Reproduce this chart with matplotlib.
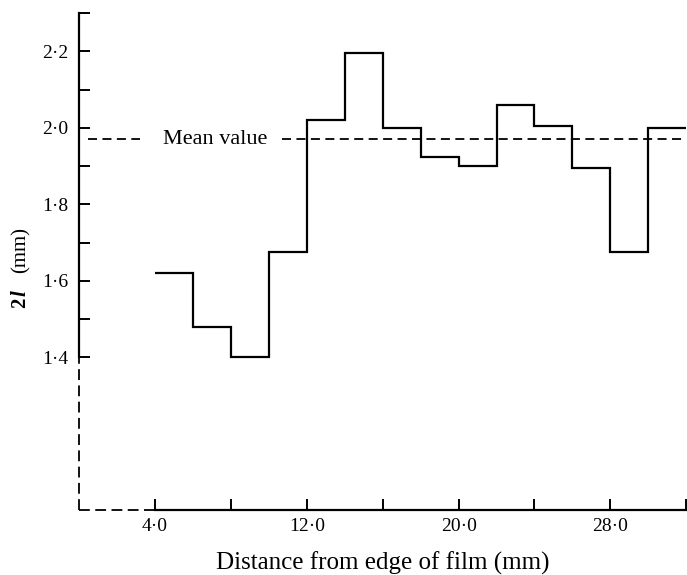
import matplotlib
matplotlib.use('Agg')
from matplotlib import pyplot as plt
from matplotlib.ticker import FixedLocator, FixedFormatter

# Bin edges (mm from edge of film) and the measured 2l in each bin
edges = [4, 6, 8, 10, 12, 14, 16, 18, 20, 22, 24, 26, 28, 30, 32]
widths_2l = [1.62, 1.48, 1.40, 1.675, 2.02, 2.195, 2.00, 1.925,
             1.90, 2.06, 2.005, 1.895, 1.675, 2.00]
mean_value = 1.97

x_ticks = [4, 8, 12, 16, 20, 24, 28, 32]
x_labels = ['4·0', '', '12·0', '', '20·0', '', '28·0', '']
y_ticks = [1.4, 1.6, 1.8, 2.0, 2.2]
y_labels = ['1·4', '1·6', '1·8', '2·0', '2·2']

plt.rcParams['font.family'] = ['Liberation Serif', 'DejaVu Serif']

fig = plt.figure(figsize=(6.87, 5.75), dpi=100)
ax = fig.add_axes([0.115, 0.113, 0.884, 0.864])
ax.set_xlim(0, 32)
ax.set_ylim(1.0, 2.3)

# Step line, no drop to a baseline
ax.stairs(widths_2l, edges, baseline=None, color='black', lw=1.6)

# Mean value line, broken for its label
ax.plot([0.45, 3.2], [mean_value, mean_value], color='black', lw=1.3,
        dashes=(5, 3))
ax.plot([10.7, 32], [mean_value, mean_value], color='black', lw=1.3,
        dashes=(5, 3), clip_on=False)
ax.text(4.45, mean_value, 'Mean value', fontsize=16, va='center', ha='left')

# Hand drawn axes: dashed below 1.4 and left of 4.0
for s in ax.spines.values():
    s.set_visible(False)
ax.plot([0, 0], [1.4, 2.3], color='black', lw=1.6, clip_on=False)
ax.plot([0, 0], [1.0, 1.4], color='black', lw=1.3, dashes=(6, 3), clip_on=False)
ax.plot([4, 32], [1.0, 1.0], color='black', lw=1.6, clip_on=False)
ax.plot([0, 4], [1.0, 1.0], color='black', lw=1.3, dashes=(6, 3), clip_on=False)

ax.yaxis.set_major_locator(FixedLocator(y_ticks))
ax.yaxis.set_major_formatter(FixedFormatter(y_labels))
ax.yaxis.set_minor_locator(FixedLocator([1.5, 1.7, 1.9, 2.1, 2.3]))
ax.xaxis.set_major_locator(FixedLocator(x_ticks))
ax.xaxis.set_major_formatter(FixedFormatter(x_labels))

ax.tick_params(axis='both', which='both', direction='in', length=8, width=1.4)
ax.tick_params(axis='y', which='major', pad=8, labelsize=14)
ax.tick_params(axis='x', which='major', pad=6, labelsize=14)

ax.set_xlabel('Distance from edge of film (mm)', fontsize=18, labelpad=12)

# y label: bold "2l" then "(mm)", reading upwards
fig.text(0.030, 0.474, '2', fontsize=15, fontweight='bold', rotation=90,
         ha='center', va='center')
fig.text(0.030, 0.491, 'l', fontsize=15, fontweight='bold', style='italic',
         rotation=90, ha='center', va='center')
fig.text(0.030, 0.565, '(mm)', fontsize=15, rotation=90,
         ha='center', va='center')

fig.savefig('out.png', dpi=100)
